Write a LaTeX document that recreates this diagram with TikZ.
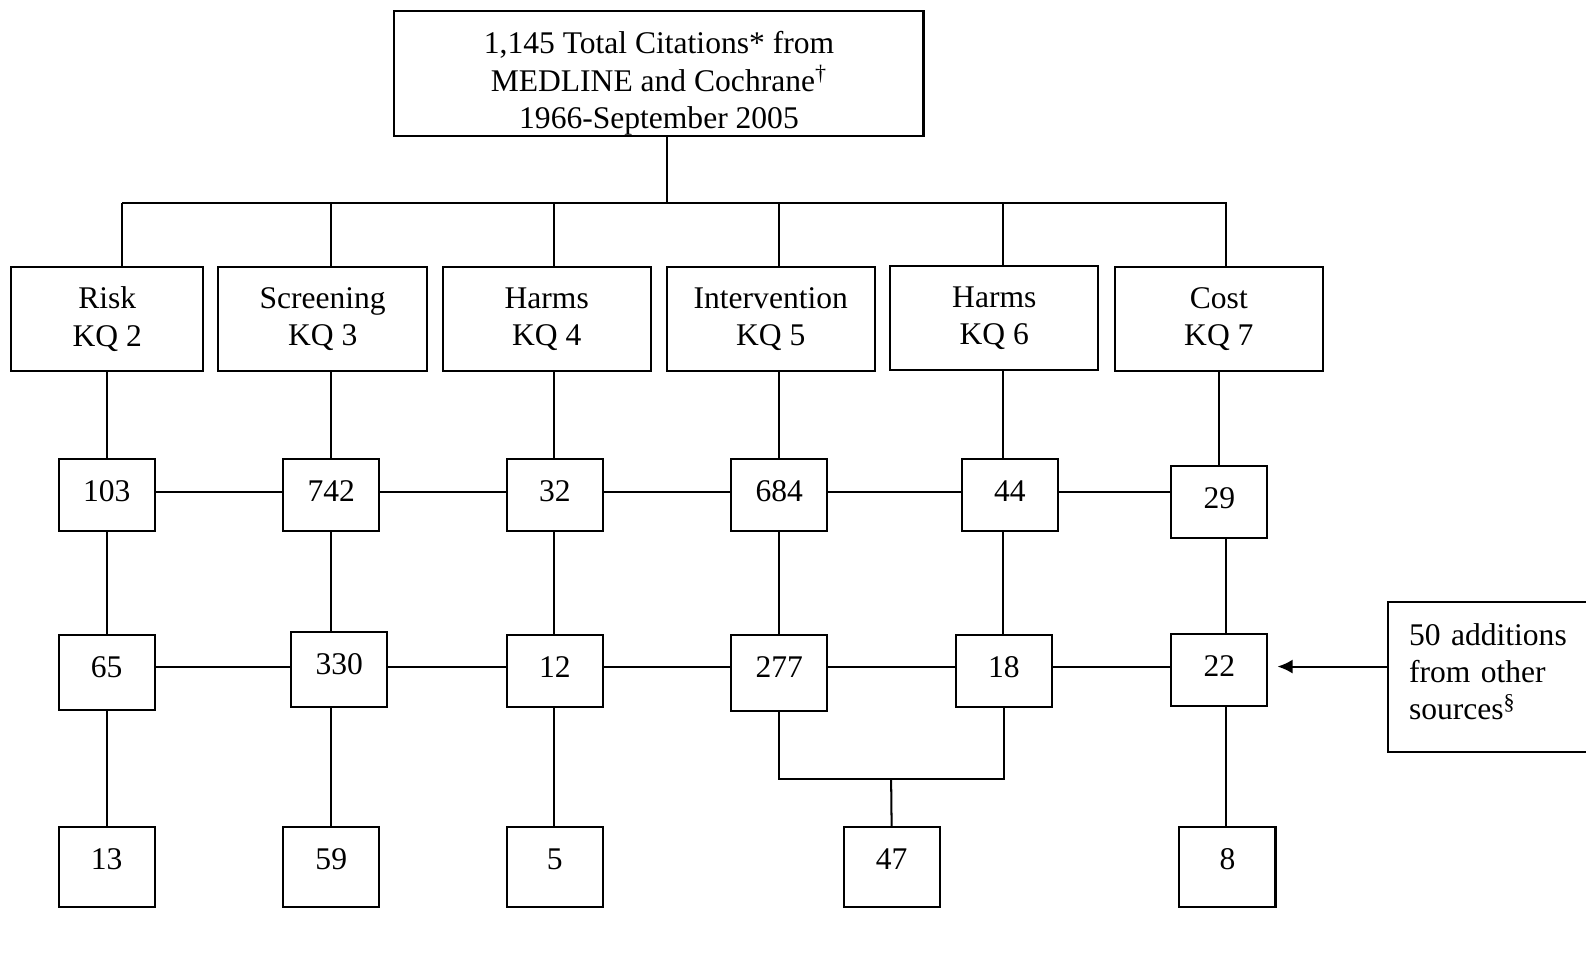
\documentclass[tikz,border=0pt]{standalone}
\usepackage{fontspec}
\setmainfont{Liberation Serif}
\usetikzlibrary{arrows.meta,positioning}
\tikzstyle{kqbox}=[draw, fill=white, align=center, inner sep=0pt, minimum width=103pt, minimum height=51.5pt]
\tikzstyle{numbox}=[draw, fill=white, inner sep=0pt, minimum width=47.5pt, minimum height=35.5pt, text depth=4pt]

\begin{document}
\begin{tikzpicture}[x=0.5pt,y=-0.5pt,auto,>={Latex[length=7.5pt,width=7pt]},line width=1pt,font=\fontsize{15.6}{18.5}\selectfont]
                        \useasboundingbox (0,0) rectangle (1568,961);
                        \node [kqbox,minimum width=261.5pt,minimum height=61.5pt] (total) at (651.5,72.5) {\rule{0pt}{21pt}1,145 Total Citations* from\\MEDLINE and Cochrane\textsuperscript{\dag}\\1966-September 2005};
                        \node [kqbox,minimum width=95pt] (risk) at (106,315.5) {Risk\\KQ 2};
                        \node [kqbox] (screen) at (319,315.5) {Screening\\KQ 3};
                        \node [kqbox] (harmsA) at (540.5,315.5) {Harms\\KQ 4};
                        \node [kqbox] (interv) at (762,315.5) {Intervention\\KQ 5};
                        \node [kqbox] (harmsB) at (983,314.5) {Harms\\KQ 6};
                        \node [kqbox] (cost) at (1205,315.5) {Cost\\KQ 7};
                        \node [numbox] (n103) at (105.5,489.5) {103};
                        \node [numbox] (n742) at (327.5,489.5) {742};
                        \node [numbox] (n32) at (548.5,489.5) {32};
                        \node [numbox] (n684) at (770.5,489.5) {684};
                        \node [numbox] (n44) at (998.5,489.5) {44};
                        \node [numbox] (n29) at (1205.5,496) {29};
                        \node [numbox,minimum height=37pt,text depth=6pt] (n65) at (105.5,665) {65};
                        \node [numbox,minimum height=37pt,text depth=6pt] (n330) at (335.5,662) {330};
                        \node [numbox] (n12) at (548.5,663.5) {12};
                        \node [numbox,minimum height=37.5pt,text depth=6pt] (n277) at (770.5,665.5) {277};
                        \node [numbox] (n18) at (992.5,663.5) {18};
                        \node [numbox] (n22) at (1205.5,662.5) {22};
                        \node [numbox,minimum height=39.5pt,text depth=8pt] (n13) at (105.5,857.5) {13};
                        \node [numbox,minimum height=39.5pt,text depth=8pt] (n59) at (327.5,857.5) {59};
                        \node [numbox,minimum height=39.5pt,text depth=8pt] (n5) at (548.5,857.5) {5};
                        \node [numbox,minimum height=39.5pt,text depth=8pt] (n47) at (881.5,857.5) {47};
                        \node [numbox,minimum height=39.5pt,text depth=8pt] (n8) at (1213.5,857.5) {8};
                        \node [draw,anchor=west,minimum height=74pt,text width=100pt,inner xsep=10.5pt,align=left] (other) at (1371,669) {50 additions\\from other\\sources\textsuperscript{\S}\rule[-5pt]{0pt}{0pt}};
                        \coordinate (busL) at (121,201);
                        \coordinate (busC) at (659,201);
                        \coordinate (busR) at (1213,201);
                        \coordinate (join) at (881,770);
                        \draw (total.south -| busC) -- (busC);
                        \draw (busL) -- (busR);
                        \foreach \n/\x in {risk/121,screen/327,harmsA/548,interv/770,harmsB/992,cost/1212}
                            \draw (busL -| \x,0) -- (\n.north -| \x,0);
                        \foreach \a/\b/\x in {risk/n103/106,screen/n742/327,harmsA/n32/548,interv/n684/770,harmsB/n44/992,cost/n29/1205,
                                              n103/n65/106,n742/n330/327,n32/n12/548,n684/n277/770,n44/n18/992,n29/n22/1212,
                                              n65/n13/106,n330/n59/327,n12/n5/548,n22/n8/1212}
                            \draw (\a.south -| \x,0) -- (\b.north -| \x,0);
                        \foreach \a/\b in {n103/n742,n742/n32,n32/n684,n684/n44,n44/n29}
                            \draw (\a.east |- 0,486) -- (\b.west |- 0,486);
                        \foreach \a/\b in {n65/n330,n330/n12,n12/n277,n277/n18,n18/n22}
                            \draw (\a.east |- 0,659) -- (\b.west |- 0,659);
                        \draw (n277.south) |- (join) -| (n18.south);
                        \draw (join) -- (n47.north);
                        \draw [->] (other.west |- 0,659) -- ([xshift=4.5pt]n22.east |- 0,659);
                    \end{tikzpicture}
\end{document}
